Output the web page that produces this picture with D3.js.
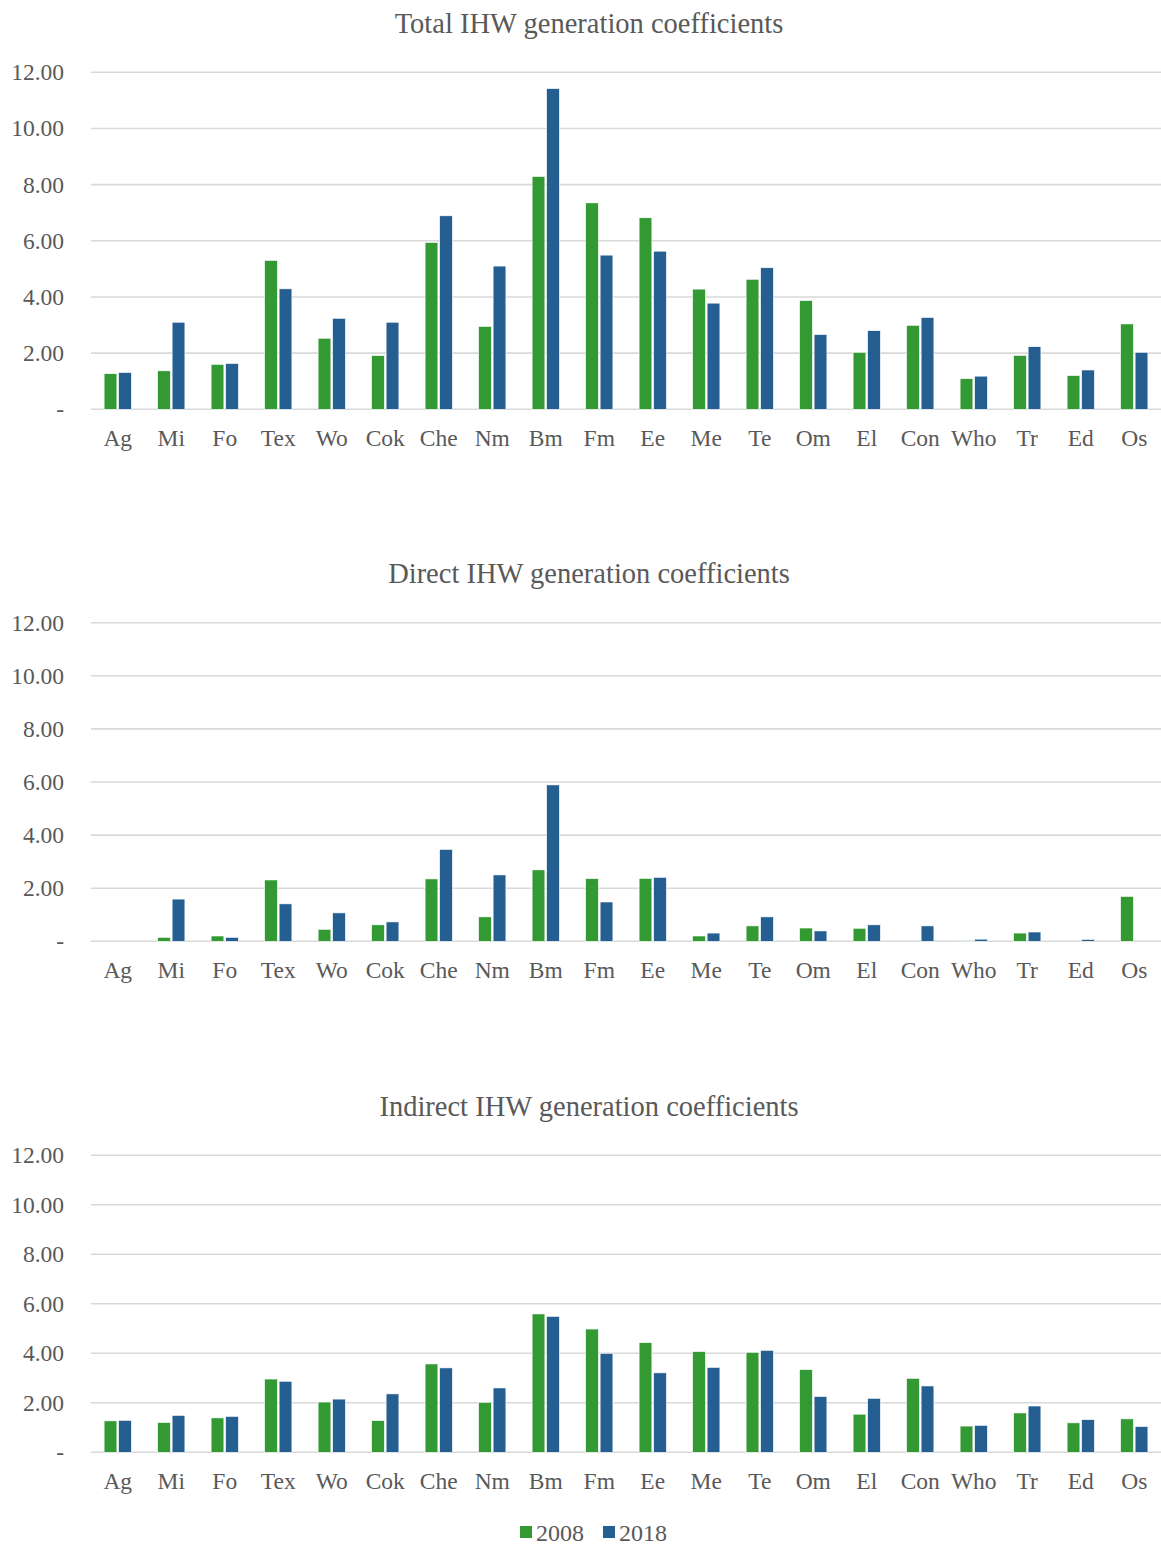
<!DOCTYPE html>
<html>
<head>
<meta charset="utf-8">
<script src="https://cdn.jsdelivr.net/npm/d3@7"></script>
<style>
  body { margin: 0; background: #fff; }
  text { font-family: "Liberation Serif", "Times New Roman", serif; fill: #595959; }
</style>
</head>
<body>
<div id="chart"></div>
<script>
const sectors = ['Ag','Mi','Fo','Tex','Wo','Cok','Che','Nm','Bm','Fm','Ee','Me','Te','Om','El','Con','Who','Tr','Ed','Os']
const years = ['2008', '2018']
const yTicks = [0, 2, 4, 6, 8, 10, 12]
const yTickLabels = ['-', '2.00', '4.00', '6.00', '8.00', '10.00', '12.00']
const titles = ['Total IHW generation coefficients', 'Direct IHW generation coefficients', 'Indirect IHW generation coefficients']

// values
const total2008 = [1.27,1.37,1.60,5.30,2.53,1.91,5.94,2.95,8.29,7.35,6.82,4.28,4.63,3.87,2.03,2.99,1.09,1.92,1.20,3.04]
const total2018 = [1.31,3.10,1.63,4.29,3.24,3.10,6.89,5.10,11.42,5.49,5.63,3.78,5.04,2.66,2.80,3.27,1.18,2.23,1.40,2.03]
const direct2008 = [0,0.15,0.20,2.31,0.45,0.62,2.35,0.92,2.69,2.36,2.37,0.20,0.58,0.50,0.49,0,0.02,0.31,0,1.69]
const direct2018 = [0,1.59,0.15,1.41,1.07,0.73,3.46,2.50,5.89,1.48,2.41,0.31,0.92,0.39,0.62,0.58,0.08,0.35,0.07,0]
const indirect2008 = [1.27,1.20,1.39,2.96,2.03,1.28,3.57,2.02,5.59,4.98,4.43,4.07,4.04,3.34,1.54,2.99,1.06,1.59,1.19,1.35]
const indirect2018 = [1.29,1.49,1.45,2.87,2.15,2.36,3.41,2.60,5.49,4.00,3.21,3.43,4.12,2.25,2.18,2.68,1.09,1.87,1.32,1.04]

const colors = { '2008': '#339933', '2018': '#255e91' }

const W = 1161, H = 1544
const left = 91, right = 1161
// panel layout: title baseline, top gridline (12.00) and zero line
const panels = [
  { title: titles[0], series: [total2008, total2018], titleY: 33, top: 72.3, bottom: 409.3 },
  { title: titles[1], series: [direct2008, direct2018], titleY: 583, top: 622.7, bottom: 941.3 },
  { title: titles[2], series: [indirect2008, indirect2018], titleY: 1116, top: 1155.3, bottom: 1452.3 }
]

const svg = d3.select('#chart').append('svg')
    .attr('width', W)
    .attr('height', H)

const x0 = d3.scaleBand()
    .domain(sectors)
    .range([left, right])
    .paddingInner(0.49)
    .paddingOuter(0.245)

const x1 = d3.scaleBand()
    .domain(years)
    .range([0, x0.bandwidth()])
    .paddingInner(0.12)

panels.forEach(p => {
    const g = svg.append('g')
    const y = d3.scaleLinear().domain([0, 12]).range([p.bottom, p.top])

    g.append('text')
        .attr('x', 589)
        .attr('y', p.titleY)
        .attr('text-anchor', 'middle')
        .style('font-size', '28.5px')
        .text(p.title)

    // gridlines
    g.selectAll('line.grid').data(yTicks).enter().append('line')
        .attr('class', 'grid')
        .attr('x1', left).attr('x2', right)
        .attr('y1', d => y(d)).attr('y2', d => y(d))
        .attr('stroke', '#d9d9d9')
        .attr('stroke-width', 1.6)

    const yAxis = d3.axisLeft(y)
        .tickValues(yTicks)
        .tickFormat((d, i) => yTickLabels[i])
        .tickSize(0)
        .tickPadding(0)
    g.append('g')
        .attr('transform', 'translate(64,0)')
        .call(yAxis)
        .call(a => a.select('.domain').remove())
        .selectAll('text')
        .style('font-size', '23.5px')
        .style('font-family', '"Liberation Serif", serif')
        .attr('fill', '#595959')

    const xAxis = d3.axisBottom(x0).tickSize(0).tickPadding(0)
    g.append('g')
        .attr('transform', 'translate(0,' + (p.bottom + 20) + ')')
        .call(xAxis)
        .call(a => a.select('.domain').remove())
        .selectAll('text')
        .style('font-size', '23.5px')
        .style('font-family', '"Liberation Serif", serif')
        .attr('fill', '#595959')

    const groups = g.selectAll('g.sector').data(sectors).enter().append('g')
        .attr('class', 'sector')
        .attr('transform', d => 'translate(' + x0(d) + ',0)')

    groups.selectAll('rect').data((d, i) => years.map((yr, k) => ({ yr, v: p.series[k][i] })))
        .enter().append('rect')
        .attr('x', d => x1(d.yr))
        .attr('width', x1.bandwidth())
        .attr('y', d => y(d.v))
        .attr('height', d => y(0) - y(d.v))
        .attr('fill', d => colors[d.yr])
        .attr('stroke', d => d.v > 0 ? '#fff' : 'none')
        .attr('stroke-width', 0.6)
})

// legend
const legend = svg.append('g').attr('transform', 'translate(0,1532)')
const legendX = d3.scaleOrdinal().domain(years).range([520, 603])
years.forEach(yr => {
    legend.append('rect')
        .attr('x', legendX(yr)).attr('y', -6)
        .attr('width', 12).attr('height', 12)
        .attr('fill', colors[yr])
    legend.append('text')
        .attr('x', legendX(yr) + 16).attr('y', 8.5)
        .style('font-size', '24px')
        .text(yr)
})
</script>
</body>
</html>
